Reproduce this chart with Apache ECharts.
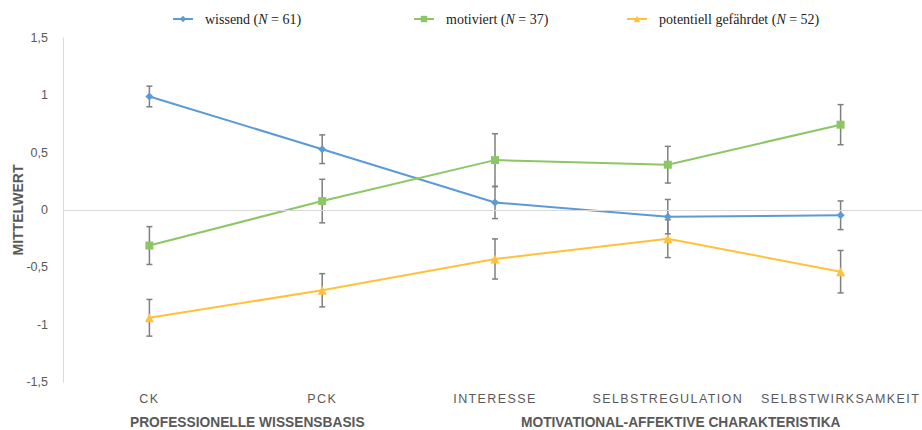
<!DOCTYPE html>
<html>
<head>
<meta charset="utf-8">
<script src="https://cdn.jsdelivr.net/npm/echarts@6/dist/echarts.min.js"></script>
<style>
  html, body { margin: 0; padding: 0; background: #fff; }
  #chart { width: 922px; height: 430px; }
</style>
</head>
<body>
<div id="chart"></div>
<script>
var categories = ['CK', 'PCK', 'INTERESSE', 'SELBSTREGULATION', 'SELBSTWIRKSAMKEIT'];
var seriesNames = ['wissend (N = 61)', 'motiviert (N = 37)', 'potentiell gefährdet (N = 52)'];
var wissend = [0.99, 0.53, 0.065, -0.058, -0.046];
var wissendErr = [0.09, 0.125, 0.14, 0.15, 0.125];
var motiviert = [-0.31, 0.078, 0.435, 0.395, 0.744];
var motiviertErr = [0.165, 0.19, 0.23, 0.16, 0.175];
var gefaehrdet = [-0.94, -0.70, -0.427, -0.25, -0.538];
var gefaehrdetErr = [0.16, 0.145, 0.175, 0.165, 0.185];
var groupLabels = ['PROFESSIONELLE WISSENSBASIS', 'MOTIVATIONAL-AFFEKTIVE CHARAKTERISTIKA'];

var colors = ['#5B9BD5', '#8CC665', '#FFC13B'];
var means = [wissend, motiviert, gefaehrdet];
var errs = [wissendErr, motiviertErr, gefaehrdetErr];
var symbols = ['diamond', 'rect', 'triangle'];
var symbolSizes = [8, 8, 9];

var myChart = echarts.init(document.getElementById('chart'), null, { renderer: 'svg' });

// fehlerbalken als custom series
function errorBars(mean, err) {
    var data = [];
    for (var i = 0; i < mean.length; i++) {
        data.push([i, mean[i] - err[i], mean[i] + err[i]]);
    }
    return {
        type: 'custom',
        silent: true,
        z: 1,
        data: data,
        renderItem: function (params, api) {
            var lo = api.coord([api.value(0), api.value(1)]);
            var hi = api.coord([api.value(0), api.value(2)]);
            var w = 3;
            var st = { stroke: '#7F7F7F', lineWidth: 1.5 };
            return {
                type: 'group',
                children: [
                    { type: 'line', shape: { x1: hi[0], y1: hi[1], x2: lo[0], y2: lo[1] }, style: st },
                    { type: 'line', shape: { x1: hi[0] - w, y1: hi[1], x2: hi[0] + w, y2: hi[1] }, style: st },
                    { type: 'line', shape: { x1: lo[0] - w, y1: lo[1], x2: lo[0] + w, y2: lo[1] }, style: st }
                ]
            };
        }
    };
}

var series = [];
for (var k = 0; k < 3; k++) {
    series.push(errorBars(means[k], errs[k]));
}
for (var k = 0; k < 3; k++) {
    var s = {
        name: seriesNames[k],
        type: 'line',
        z: 3,
        data: means[k],
        symbol: symbols[k],
        symbolSize: symbolSizes[k],
        showAllSymbol: true,
        lineStyle: { width: 2, color: colors[k] },
        itemStyle: { color: colors[k] }
    };
    if (k === 0) {
        s.markLine = {
            silent: true,
            symbol: 'none',
            label: { show: false },
            lineStyle: { color: '#D9D9D9', width: 1, type: 'solid' },
            data: [{ yAxis: 0 }]
        };
    }
    series.push(s);
}

function legendAt(idx, left) {
    return {
        data: [seriesNames[idx]],
        left: left,
        top: 12,
        padding: 0,
        itemWidth: 20,
        itemHeight: 8,
        selectedMode: false,
        formatter: function (name) {
            return name.replace('N', '{i|N}');
        },
        textStyle: {
            fontFamily: 'Liberation Serif',
            fontSize: 14,
            color: '#222',
            padding: [0, 0, 0, 7],
            rich: {
                i: { fontFamily: 'Liberation Serif', fontStyle: 'italic', fontSize: 14, color: '#222' }
            }
        }
    };
}

option = {
    animation: false,
    color: colors,
    legend: [legendAt(0, 172), legendAt(1, 413), legendAt(2, 626)],
    grid: { left: 63, right: -5, top: 38, bottom: 48, outerBoundsMode: 'none', containLabel: false },
    xAxis: {
        type: 'category',
        data: categories,
        boundaryGap: true,
        axisLine: { show: false },
        axisTick: { show: false },
        axisLabel: {
            interval: 0,
            hideOverlap: false,
            margin: 10,
            color: '#595959',
            fontFamily: 'Liberation Sans',
            fontSize: 12.5
        }
    },
    yAxis: {
        type: 'value',
        min: -1.5,
        max: 1.5,
        interval: 0.5,
        name: 'MITTELWERT',
        nameLocation: 'middle',
        nameRotate: 90,
        nameGap: 38,
        nameMoveOverlap: false,
        nameTextStyle: {
            fontFamily: 'Liberation Sans',
            fontWeight: 'bold',
            fontSize: 14,
            color: '#595959'
        },
        axisLine: { show: true, lineStyle: { color: '#D9D9D9' } },
        axisTick: { show: false },
        splitLine: { show: false },
        axisLabel: {
            margin: 15,
            color: '#595959',
            fontFamily: 'Liberation Sans',
            fontSize: 12.5,
            formatter: function (v) {
                return String(v).replace('.', ',');
            }
        }
    },
    graphic: [
        {
            type: 'text', left: 130, top: 415,
            style: { text: groupLabels[0], fill: '#595959', font: 'bold 13.75px "Liberation Sans"' }
        },
        {
            type: 'text', left: 521, top: 415,
            style: { text: groupLabels[1], fill: '#595959', font: 'bold 13.75px "Liberation Sans"' }
        }
    ],
    series: series
};
myChart.setOption(option);

// gesperrte schrift fuer die kategorien (wie im original)
var texts = document.querySelectorAll('#chart svg text');
for (var t = 0; t < texts.length; t++) {
    if (categories.indexOf(texts[t].textContent) >= 0) {
        texts[t].setAttribute('letter-spacing', '1.4px');
    }
}
</script>
</body>
</html>
